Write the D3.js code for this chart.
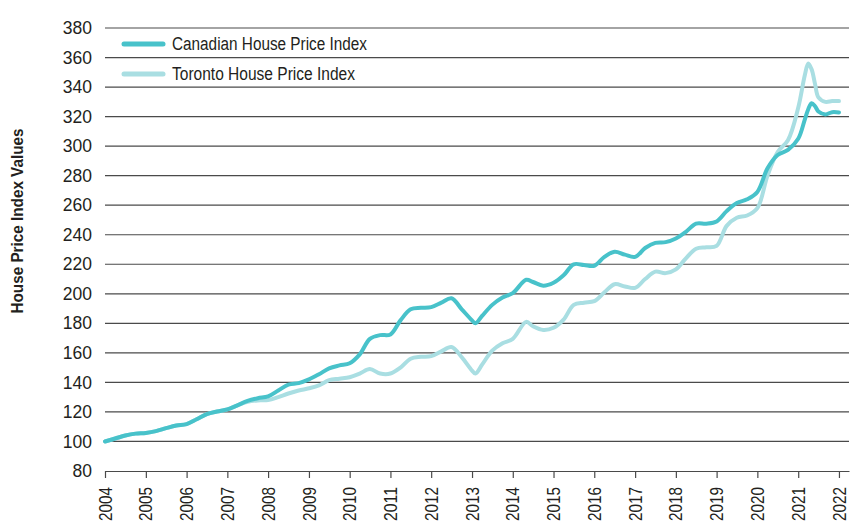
<!DOCTYPE html>
<html lang="en">
   <head>
      <meta charset="UTF-8">
      <script src="https://d3js.org/d3.v7.min.js"></script>
      <title>House Price Index</title>
      <style>
         body { margin: 0; background: #fff; }
         text { font-family: "Liberation Sans Narrow", "Liberation Sans", Arial, sans-serif; fill: #231f20; }
      </style>
   </head>
   <body>
      <script>
         var width = 853;
         var height = 525;

         // observation dates (roughly quarterly, extra points at turns)
         var dates = [
            "2004-01", "2004-04", "2004-07", "2004-10",
            "2005-01", "2005-04", "2005-07", "2005-10",
            "2006-01", "2006-04", "2006-07", "2006-10",
            "2007-01", "2007-04", "2007-07", "2007-10",
            "2008-01", "2008-04", "2008-07", "2008-10",
            "2009-01", "2009-04", "2009-07", "2009-10",
            "2010-01", "2010-04", "2010-07", "2010-10",
            "2011-01", "2011-04", "2011-07", "2011-10",
            "2012-01", "2012-04", "2012-07", "2012-10",
            "2013-01", "2013-02", "2013-04", "2013-07", "2013-10",
            "2014-01", "2014-05", "2014-07", "2014-10",
            "2015-01", "2015-04", "2015-07", "2015-10",
            "2016-01", "2016-04", "2016-07", "2016-10",
            "2017-01", "2017-04", "2017-07", "2017-10",
            "2018-01", "2018-04", "2018-07", "2018-10",
            "2019-01", "2019-04", "2019-07", "2019-10",
            "2020-01", "2020-04", "2020-07", "2020-10",
            "2021-01", "2021-03", "2021-04", "2021-05", "2021-06", "2021-07", "2021-09", "2021-11",
            "2022-01"
         ];

         var canadian = [
            100, 102, 104, 105.3,
            105.8, 107, 109, 110.8,
            111.8, 115, 118.5, 120.3,
            121.7, 124.5, 127.5, 129.3,
            130.5, 134.5, 138.5, 139.5,
            142, 145.5, 149.5, 151.5,
            153, 159, 169.5, 172,
            172.5, 182, 189.5, 190.5,
            191, 194, 197, 189.5,
            182, 180, 185, 192.5, 197.5,
            200.5, 209.5, 208, 205.5,
            207.5, 212.5, 220, 219.5,
            219, 225, 228.5, 226.5,
            225, 231, 234.5, 235,
            237.5, 242, 247.5, 247.5,
            249, 256, 261.5, 264,
            269, 285, 294, 297.5,
            305, 318, 325, 329, 327, 323.5, 321.5, 323,
            322.8
         ];

         var toronto = [
            100, 102, 104, 105.3,
            105.8, 107, 109, 110.8,
            111.8, 115, 118.5, 120.3,
            121.7, 124.5, 126.8, 127.8,
            128, 130, 132.5, 134.5,
            136, 138, 141.5, 142.5,
            143.5, 146, 149, 146,
            146, 150, 156, 157.3,
            157.8, 161, 164, 157,
            148, 146, 152, 161.5, 166.5,
            169.5, 181, 178, 175.5,
            177, 182.5, 192.5, 194,
            195, 201, 206.5, 205,
            204, 210, 215, 214,
            216.5, 224, 230.5, 231.5,
            232.5, 246, 251.5, 253,
            258, 280, 296, 304,
            326, 348, 356, 352, 342, 333, 330, 330.5,
            330.5
         ];

         var yTicks = [80, 100, 120, 140, 160, 180, 200, 220, 240, 260, 280, 300, 320, 340, 360, 380];
         var yearLabels = ["2004", "2005", "2006", "2007", "2008", "2009", "2010", "2011", "2012",
            "2013", "2014", "2015", "2016", "2017", "2018", "2019", "2020", "2021", "2022"];

         var seriesNames = ["Canadian House Price Index", "Toronto House Price Index"];
         var seriesColors = ["#48c2ca", "#a9dee2"];

         var parse = d3.timeParse("%Y-%m");
         var parseYear = d3.timeParse("%Y");

         var margin = { left: 105, right: 4, top: 28, bottom: 54 };

         var x = d3.scaleTime()
            .domain([parseYear("2004"), parse("2022-04")])
            .range([margin.left, width - margin.right]);

         var y = d3.scaleLinear()
            .domain([80, 380])
            .range([height - margin.bottom, margin.top]);

         var svg = d3.select("body")
            .append("svg")
            .attr("width", width)
            .attr("height", height);

         // gridlines
         svg.append("g")
            .selectAll("line")
            .data(yTicks.slice(1))
            .enter()
            .append("line")
            .attr("x1", margin.left)
            .attr("x2", width - margin.right)
            .attr("y1", function (d) { return y(d); })
            .attr("y2", function (d) { return y(d); })
            .attr("stroke", "#4a4a4a")
            .attr("stroke-width", 1.2);

         // y axis labels
         var yAxis = d3.axisLeft(y)
            .tickValues(yTicks)
            .tickSize(0)
            .tickPadding(13);

         svg.append("g")
            .attr("transform", "translate(" + margin.left + ",0)")
            .call(yAxis)
            .call(function (g) { g.select(".domain").remove(); })
            .selectAll("text")
            .style("font-size", "17.5px")
            .style("font-family", "'Liberation Sans Narrow', 'Liberation Sans', Arial, sans-serif")
            .attr("fill", "#231f20");

         // x axis
         var xAxis = d3.axisBottom(x)
            .tickValues(yearLabels.map(function (s) { return parseYear(s); }))
            .tickFormat(d3.timeFormat("%Y"))
            .tickSize(7)
            .tickSizeOuter(0);

         var gx = svg.append("g")
            .attr("transform", "translate(0," + (height - margin.bottom) + ")")
            .call(xAxis);

         gx.select(".domain").attr("stroke", "#4a4a4a").attr("stroke-width", 1.2);
         gx.selectAll(".tick line").attr("stroke", "#4a4a4a").attr("stroke-width", 1.2);
         gx.selectAll("text")
            .attr("transform", "rotate(-90)")
            .attr("text-anchor", "end")
            .attr("x", -16)
            .attr("y", 0)
            .attr("dy", "0.35em")
            .attr("textLength", 34)
            .attr("lengthAdjust", "spacingAndGlyphs")
            .style("font-size", "17.5px")
            .style("font-family", "'Liberation Sans Narrow', 'Liberation Sans', Arial, sans-serif")
            .attr("fill", "#231f20");

         // y axis title
         svg.append("text")
            .attr("transform", "translate(23,221) rotate(-90)")
            .attr("text-anchor", "middle")
            .attr("textLength", 185)
            .attr("lengthAdjust", "spacingAndGlyphs")
            .style("font-size", "17px")
            .style("font-weight", "bold")
            .text("House Price Index Values");

         // lines
         var line = d3.line()
            .curve(d3.curveCatmullRom.alpha(0.5))
            .x(function (d) { return x(d.date); })
            .y(function (d) { return y(d.value); });

         var series = [canadian, toronto].map(function (vals, i) {
            return {
               name: seriesNames[i],
               color: seriesColors[i],
               values: vals.map(function (v, j) { return { date: parse(dates[j]), value: v }; })
            };
         });

         // draw Toronto first so Canadian sits on top
         svg.selectAll("path.series")
            .data(series.slice().reverse())
            .enter()
            .append("path")
            .attr("class", "series")
            .attr("fill", "none")
            .attr("stroke", function (d) { return d.color; })
            .attr("stroke-width", 4)
            .attr("stroke-linecap", "round")
            .attr("stroke-linejoin", "round")
            .attr("d", function (d) { return line(d.values); });

         // legend
         var legendWidths = [195, 183];
         var legend = svg.selectAll("g.legend")
            .data(series)
            .enter()
            .append("g")
            .attr("class", "legend")
            .attr("transform", function (d, i) { return "translate(124," + (44 + i * 30) + ")"; });

         legend.append("line")
            .attr("x1", 0)
            .attr("x2", 39)
            .attr("stroke", function (d) { return d.color; })
            .attr("stroke-width", 5)
            .attr("stroke-linecap", "round");

         legend.append("text")
            .attr("x", 48)
            .attr("dy", "0.35em")
            .attr("textLength", function (d, i) { return legendWidths[i]; })
            .attr("lengthAdjust", "spacingAndGlyphs")
            .style("font-size", "18px")
            .text(function (d) { return d.name; });
      </script>
   </body>
</html>
